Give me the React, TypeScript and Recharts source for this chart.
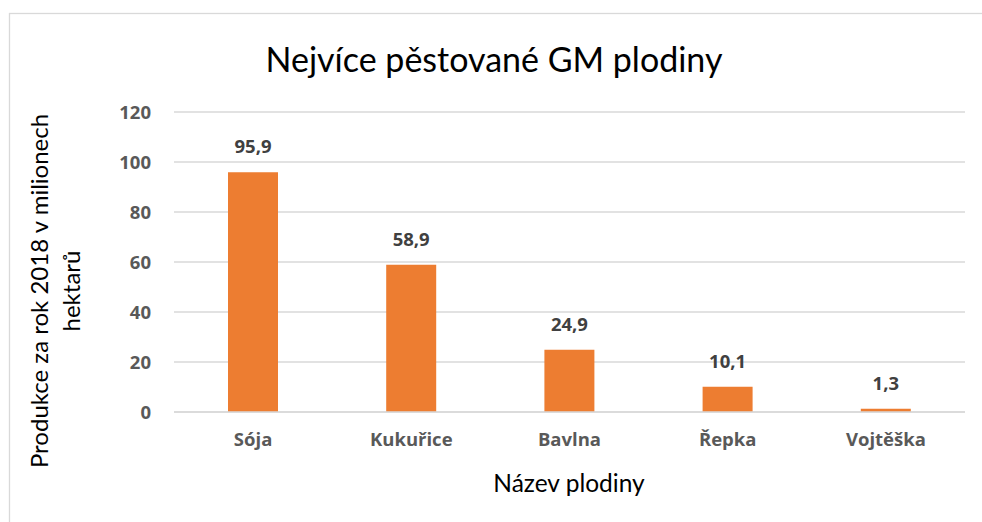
import React from 'react';
import { BarChart, Bar, XAxis, YAxis, CartesianGrid, LabelList } from 'recharts';

const categories = ['Sója', 'Kukuřice', 'Bavlna', 'Řepka', 'Vojtěška'];
const values = [95.9, 58.9, 24.9, 10.1, 1.3];
const yTicks = [0, 20, 40, 60, 80, 100, 120];
const chartTitle = 'Nejvíce pěstované GM plodiny';
const xTitle = 'Název plodiny';
const yTitleLines = ['Produkce za rok 2018 v milionech', 'hektarů'];

const data = categories.map((name, i) => ({ name, value: values[i] }));

const FONT = 'Lato, "Open Sans", sans-serif';
const BOLD = '"Open Sans", Lato, sans-serif';
const fmt = (v: any) => String(v).replace('.', ',');

export default function App() {
  return (
    <div style={{ position: 'absolute', left: 0, top: 0, width: 982, height: 522, background: '#fff', overflow: 'hidden', fontFamily: FONT }}>
      <div style={{ position: 'absolute', left: 0, top: 0 }}>
        <BarChart width={982} height={522} data={data} margin={{ top: 112, right: 17, bottom: 80, left: 114 }}>
          <CartesianGrid vertical={false} stroke="#d9d9d9" strokeWidth={1.3} />
          <XAxis
            dataKey="name"
            tickLine={false}
            axisLine={{ stroke: '#d9d9d9', strokeWidth: 1.3 }}
            tickSize={0}
            tickMargin={21}
            height={30}
            tick={{ fill: '#595959', fontSize: 18.5, fontWeight: 700, fontFamily: BOLD }}
          />
          <YAxis
            domain={[0, 120]}
            ticks={yTicks}
            axisLine={false}
            tickLine={false}
            tickSize={0}
            tickMargin={23}
            width={60}
            tick={{ fill: '#595959', fontSize: 18.5, fontWeight: 700, fontFamily: BOLD }}
          />
          <Bar dataKey="value" fill="#ED7D31" barSize={50} isAnimationActive={false}>
            <LabelList dataKey="value" position="top" offset={19} formatter={fmt} fill="#404040" fontSize={18.5} fontWeight={700} fontFamily={BOLD} />
          </Bar>
        </BarChart>
      </div>
      <svg width={982} height={522} style={{ position: 'absolute', left: 0, top: 0, pointerEvents: 'none' }}>
        <rect x={9.5} y={13.5} width={1000} height={600} fill="none" stroke="#d9d9d9" strokeWidth={1.3} />
        <text x={494} y={72} textAnchor="middle" fontSize={34} fill="#000" fontFamily={FONT}>{chartTitle}</text>
        <text x={569} y={492} textAnchor="middle" fontSize={24.5} fill="#000" fontFamily={FONT}>{xTitle}</text>
        <text x={48} y={291} textAnchor="middle" fontSize={24} fill="#000" fontFamily={FONT} transform="rotate(-90 48 291)">{yTitleLines[0]}</text>
        <text x={80} y={291} textAnchor="middle" fontSize={24} fill="#000" fontFamily={FONT} transform="rotate(-90 80 291)">{yTitleLines[1]}</text>
      </svg>
    </div>
  );
}
